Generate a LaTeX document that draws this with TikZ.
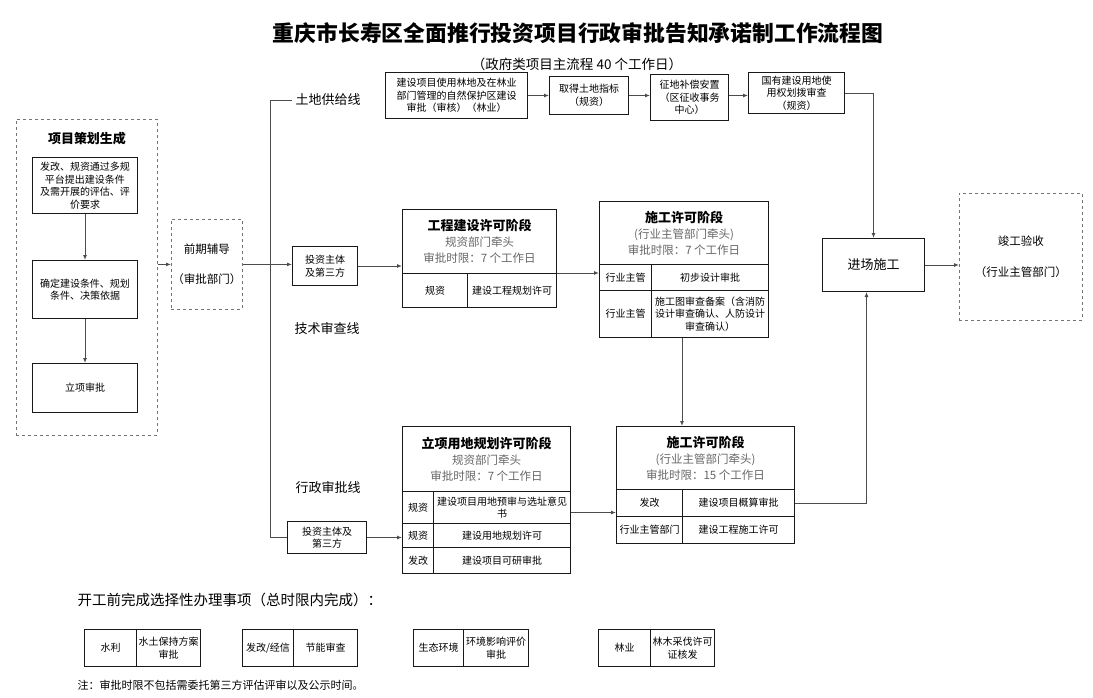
\documentclass[tikz,border=0pt]{standalone}
\usepackage{fontspec}
\setmainfont{Noto Sans CJK SC}
\usepackage{tikz}
\usetikzlibrary{arrows.meta}

\newcommand{\stg}[1]{{\fontsize{13}{17}\selectfont\bfseries #1}}
\newcommand{\stgnote}[1]{\textcolor{black!60}{#1}}

\tikzset{
  boxdim/.style 2 args={minimum width=#1pt, minimum height=#2pt},
  box/.style={draw=black!90, line width=1pt, anchor=north west, align=center,
    inner sep=1pt, font=\fontsize{10}{12.5}\selectfont},
  dbox/.style={box, draw=black!55, line width=0.8pt, dashed},
  stagebox/.style={box, font=\fontsize{11.5}{16}\selectfont},
  lane/.style={font=\fontsize{13}{15}\selectfont},
  wire/.style={draw=black!70, line width=1pt},
  link/.style={wire, -{Latex[length=5pt,width=4pt]}}
}

\begin{document}
\begin{tikzpicture}[x=1pt,y=-1pt]
\useasboundingbox (0,0) rectangle (1093,697);

% title
\node[font=\bfseries\fontsize{21.8}{24}\selectfont] (title) at (578,33) {重庆市长寿区全面推行投资项目行政审批告知承诺制工作流程图};
\node[font=\fontsize{13.5}{15}\selectfont] (sub) at (577,64) {（政府类项目主流程 40 个工作日）};

% project planning
\node[dbox, boxdim={141}{316}] (xm) at (16,119) {};
\node[font=\bfseries\fontsize{13}{15}\selectfont] (xmt) at (87,139) {项目策划生成};
\node[box, boxdim={105}{56}] (xm1) at (32,157) {发改、规资通过多规\\平台提出建设条件\\及需开展的评估、评\\价要求};
\node[box, boxdim={105}{58}] (xm2) at (32,260) {确定建设条件、规划\\条件、决策依据};
\node[box, boxdim={105}{49}] (xm3) at (32,363) {立项审批};
\draw[link] (xm1) -- (xm2);
\draw[link] (xm2) -- (xm3);

\node[dbox, boxdim={71}{90}, font=\fontsize{11.5}{14}\selectfont] (qf) at (171,219) {前期辅导\\[16pt]（审批部门）};
\draw[link] (qf.west -| xm.east) -- (qf.west);

% three lanes
\node[lane] (tdl) at (328,100) {土地供给线};
\node[lane] (jsl) at (327,329) {技术审查线};
\node[lane] (xzl) at (328,488) {行政审批线};
\coordinate (fork) at (270,0);
\node[box, boxdim={65}{39}] (tz1) at (292,246) {投资主体\\及第三方};
\node[box, boxdim={79}{32}] (tz2) at (287,521) {投资主体及\\第三方};
\draw[wire] (tdl.west) -| (fork |- tz2.west) -- (tz2.west);
\draw[link] (qf.east) -- (qf.east -| tz1.west);

% land supply
\node[box, boxdim={142}{46}] (td1) at (385,72) {建设项目使用林地及在林业\\部门管理的自然保护区建设\\审批（审核）（林业）};
\node[box, boxdim={79}{38}] (td2) at (549,76) {取得土地指标\\（规资）};
\node[box, boxdim={78}{46}] (td3) at (650,74) {征地补偿安置\\（区征收事务\\中心）};
\node[box, boxdim={96}{41}] (td4) at (748,72) {国有建设用地使\\用权划拨审查\\（规资）};
\draw[link] (td1.east) -- (td1.east -| td2.west);
\draw[link] (td2.east) -- (td2.east -| td3.west);
\draw[link] (td2.east -| td3.east) -- (td2.east -| td4.west);

% construction and acceptance
\node[box, boxdim={102}{53}, font=\fontsize{13}{15}\selectfont] (jc) at (822,238) {进场施工};
\node[dbox, boxdim={123}{127}, font=\fontsize{11.5}{14}\selectfont] (jg) at (959,193) {竣工验收\\[17pt]（行业主管部门）};
\draw[link] (td4.east) -| (jc.north);
\draw[link] (jc.east) -- (jc.east -| jg.west);

% technical review
\node[stagebox, boxdim={154}{64}] (gch) at (402,209) {\stg{工程建设许可阶段}\\ \stgnote{规资部门牵头}\\ \stgnote{审批时限：7 个工作日}};
\node[box, boxdim={65}{34}] (gca) at (402,273) {规资};
\node[box, boxdim={89}{34}] (gcb) at (467,273) {建设工程规划许可};
\node[stagebox, boxdim={169}{63}] (sgh) at (599,201) {\stg{施工许可阶段}\\ \stgnote{(行业主管部门牵头)}\\ \stgnote{审批时限：7 个工作日}};
\node[box, boxdim={52}{26}] (sg1a) at (599,264) {行业主管};
\node[box, boxdim={117}{26}] (sg1b) at (651,264) {初步设计审批};
\node[box, boxdim={52}{47}] (sg2a) at (599,290) {行业主管};
\node[box, boxdim={117}{47}] (sg2b) at (651,290) {施工图审查备案（含消防\\设计审查确认、人防设计\\审查确认）};
\draw[link] (tz1.east) -- (tz1.east -| gch.west);
\draw[link] ([yshift=1pt]gch.south east) -- ([yshift=1pt]gch.south east -| sg1a.west);

% administrative approval
\node[stagebox, boxdim={168}{65}] (lyh) at (402,426) {\stg{立项用地规划许可阶段}\\ \stgnote{规资部门牵头}\\ \stgnote{审批时限：7 个工作日}};
\node[box, boxdim={31}{32}] (ly1a) at (402,491) {规资};
\node[box, boxdim={137}{32}] (ly1b) at (433,491) {建设项目用地预审与选址意见\\书};
\node[box, boxdim={31}{24}] (ly2a) at (402,523) {规资};
\node[box, boxdim={137}{24}] (ly2b) at (433,523) {建设用地规划许可};
\node[box, boxdim={31}{26}] (ly3a) at (402,547) {发改};
\node[box, boxdim={137}{26}] (ly3b) at (433,547) {建设项目可研审批};
\node[stagebox, boxdim={178}{63}] (sxh) at (616,426) {\stg{施工许可阶段}\\ \stgnote{(行业主管部门牵头)}\\ \stgnote{审批时限：15 个工作日}};
\node[box, boxdim={66}{27}] (sx1a) at (616,489) {发改};
\node[box, boxdim={112}{27}] (sx1b) at (682,489) {建设项目概算审批};
\node[box, boxdim={66}{27}] (sx2a) at (616,516) {行业主管部门};
\node[box, boxdim={112}{27}] (sx2b) at (682,516) {建设工程施工许可};
\draw[link] (tz2.east) -- (tz2.east -| ly2a.west);
\draw[link] ([yshift=-5pt]ly1b.east) -- ([yshift=-5pt]ly1b.east -| sx1a.west);
\draw[link] (sg2b.south -| sx1b.west) -- (sx1b.west |- sxh.north);
\draw[link] (sx1b.east) -| ([xshift=-7pt]jc.south);

% optional items
\node[anchor=west, font=\fontsize{14.5}{16}\selectfont] (opt) at (74,600) {开工前完成选择性办理事项（总时限内完成）：};
\node[box, boxdim={52}{37}] (opa1) at (84,629) {水利};
\node[box, boxdim={64}{37}] (opa2) at (136,629) {水土保持方案\\审批};
\node[box, boxdim={51}{37}] (opb1) at (242,629) {发改/经信};
\node[box, boxdim={64}{37}] (opb2) at (293,629) {节能审查};
\node[box, boxdim={50}{37}] (opc1) at (413,629) {生态环境};
\node[box, boxdim={65}{37}] (opc2) at (463,629) {环境影响评价\\审批};
\node[box, boxdim={52}{37}] (opd1) at (598,629) {林业};
\node[box, boxdim={64}{37}] (opd2) at (650,629) {林木采伐许可\\证核发};
\node[anchor=west, font=\fontsize{11}{13}\selectfont] (note) at (74,685) {注：审批时限不包括需委托第三方评估评审以及公示时间。};
\end{tikzpicture}
\end{document}
